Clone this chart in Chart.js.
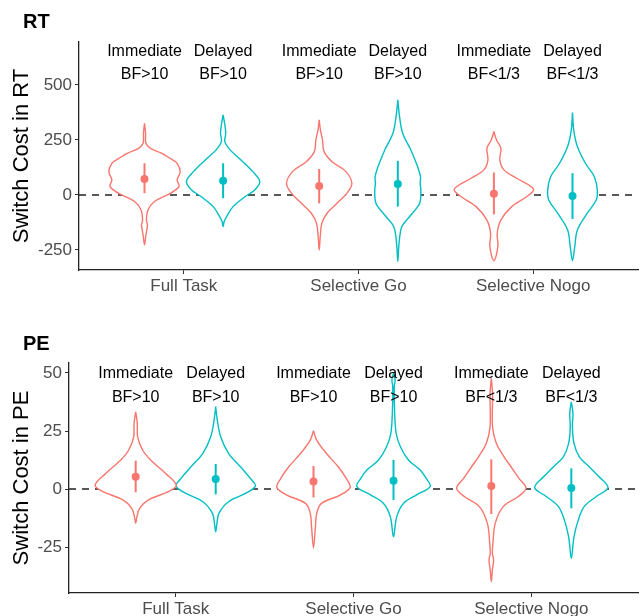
<!DOCTYPE html>
<html>
<head>
<meta charset="utf-8">
<script src="https://cdn.jsdelivr.net/npm/chart.js@4.4.1/dist/chart.umd.min.js"></script>
<style>
  body { margin: 0; background: #fff; }
  canvas { display: block; }
</style>
</head>
<body>
<canvas id="rtChart" width="642" height="300"></canvas>
<canvas id="peChart" width="642" height="316"></canvas>
<script>
// categories and groups
const categories = ['Full Task', 'Selective Go', 'Selective Nogo'];
const conditions = ['Immediate', 'Delayed'];
const colors = ['#F8766D', '#00BFC4'];

// order of the 6 violins: FT imm, FT del, SG imm, SG del, SN imm, SN del
const rtBF = ['BF>10', 'BF>10', 'BF>10', 'BF>10', 'BF<1/3', 'BF<1/3'];
const peBF = ['BF>10', 'BF>10', 'BF>10', 'BF>10', 'BF<1/3', 'BF<1/3'];

const rtTicks = [-250, 0, 250, 500];
const peTicks = [-25, 0, 25, 50];

// means and error bars
const rtMean = [72, 64, 41, 50, 5, -5];
const rtLow = [8, -15, -38, -53, -88, -109];
const rtHigh = [144, 144, 118, 155, 102, 99];
const peMean = [5.3, 4.3, 3.2, 3.6, 1.3, 0.4];
const peLow = [-1.4, -2.3, -3.6, -4.7, -10.8, -8.3];
const peHigh = [12.2, 10.8, 9.9, 12.5, 12.8, 8.9];

// violin outlines: y values and half width of the density (in category units)
const rtViolinY = [
  [326, 280, 235, 212, 190, 160, 144, 106, 68, 40, 15, 0, -30, -68, -114, -136, -182, -227],
  [364, 318, 280, 242, 205, 159, 106, 61, 23, -8, -53, -98, -121, -144],
  [341, 295, 250, 197, 151, 106, 53, 8, -38, -83, -129, -189, -250],
  [432, 356, 280, 205, 129, 83, 50, 23, -38, -98, -144, -220, -303],
  [288, 250, 212, 159, 114, 76, 26, -8, -53, -114, -174, -235, -299],
  [374, 295, 220, 144, 83, 23, -23, -83, -159, -235, -299]
];
const rtViolinW = [
  [0, .006, .008, .034, .096, .159, .187, .204, .187, .198, .164, .130, .057, .020, .011, .017, .008, 0],
  [0, .010, .015, .010, .040, .102, .170, .210, .181, .125, .057, .020, .006, 0],
  [0, .007, .019, .028, .074, .153, .187, .159, .102, .045, .015, .006, 0],
  [0, .010, .028, .074, .113, .130, .128, .132, .125, .068, .023, .007, 0],
  [0, .015, .040, .034, .057, .130, .227, .187, .102, .040, .019, .023, 0],
  [0, .007, .028, .074, .125, .142, .136, .085, .028, .013, 0]
];
const peViolinY = [
  [33.3, 28.3, 22.5, 16.8, 12.5, 6.8, 1.7, -1.1, -4.7, -8.3, -11.9, -14.8],
  [35.5, 29.7, 22.5, 15.4, 9.6, 4.6, 1.3, -1.9, -5.5, -10.5, -14.8, -18.4],
  [25.1, 21.1, 15.4, 9.6, 4.6, 0.7, -2.6, -6.2, -10.5, -16.2, -25.4],
  [49.9, 47, 44, 34, 24, 18.2, 12.5, 8.2, 4.6, 1.0, -2.6, -6.2, -11.9, -20.6],
  [47.7, 41.2, 26.9, 19.7, 13.9, 9.6, 4.6, 0.3, -3.3, -7.6, -14.8, -23.4, -27.7, -30.6, -34.9, -40],
  [37.6, 32.6, 26.9, 19.7, 13.9, 9.6, 5.3, 0.6, -3.3, -7.6, -13.4, -20.6, -29.9]
];
const peViolinW = [
  [0, .009, .011, .039, .084, .167, .228, .184, .072, .022, .007, 0],
  [0, .009, .028, .072, .139, .195, .223, .167, .072, .018, .007, 0],
  [0, .018, .072, .139, .184, .206, .150, .045, .018, .011, 0],
  [0, .009, .004, .006, .015, .039, .084, .150, .184, .206, .128, .056, .018, 0],
  [0, .007, .007, .028, .072, .111, .156, .195, .150, .067, .022, .009, .006, .013, .006, 0],
  [0, .009, .006, .015, .045, .100, .156, .206, .139, .072, .039, .015, 0]
];

const family = "'Liberation Sans', Arial, sans-serif";
Chart.defaults.font.family = family;

const dodge = 0.225;
function centerOf(i) {
  return Math.floor(i / 2) + 1 + (i % 2 ? dodge : -dodge);
}

// titles and the Immediate / BF text over each violin
const panelText = {
  id: 'panelText',
  afterDatasetsDraw(chart, args, opts) {
    const ctx = chart.ctx;
    const xs = chart.scales.x, ys = chart.scales.y;
    ctx.save();
    ctx.fillStyle = '#000';
    ctx.font = 'bold 20px ' + family;
    ctx.textAlign = 'left';
    ctx.textBaseline = 'alphabetic';
    ctx.fillText(opts.title, 23, opts.titleY);
    ctx.font = '16px ' + family;
    ctx.textAlign = 'center';
    ctx.textBaseline = 'middle';
    for (let i = 0; i < 6; i++) {
      const cx = xs.getPixelForValue(centerOf(i));
      ctx.fillText(conditions[i % 2], cx, ys.getPixelForValue(opts.row1));
      ctx.fillText(opts.bf[i], cx, ys.getPixelForValue(opts.row2));
    }
    ctx.restore();
  }
};

function makePanel(id, p) {
  const datasets = [];
  datasets.push({
    data: [{ x: 0.4, y: 0 }, { x: 3.6, y: 0 }],
    borderColor: '#222', borderWidth: 1.4, borderDash: [7, 6],
    pointRadius: 0, order: 10
  });
  for (let i = 0; i < 6; i++) {
    const c = centerOf(i);
    const col = colors[i % 2];
    const Y = p.violinY[i], W = p.violinW[i];
    const right = Y.map((y, k) => ({ x: c + W[k], y: y }));
    const left = Y.map((y, k) => ({ x: c - W[k], y: y })).reverse().slice(1);
    datasets.push({
      data: right.concat(left),
      borderColor: col, borderWidth: 1.4, backgroundColor: '#fff',
      fill: 'shape', tension: 0.35, pointRadius: 0, order: 5
    });
    datasets.push({
      data: [{ x: c, y: p.low[i] }, { x: c, y: p.high[i] }],
      borderColor: col, borderWidth: 2, pointRadius: 0, order: 2
    });
    datasets.push({
      data: [{ x: c, y: p.mean[i] }],
      showLine: false, pointRadius: 4, pointBackgroundColor: col,
      pointBorderWidth: 0, order: 1
    });
  }

  return new Chart(document.getElementById(id), {
    type: 'line',
    data: { datasets: datasets },
    plugins: [panelText],
    options: {
      responsive: false,
      animation: false,
      layout: { padding: { top: p.top, left: 0, right: 0, bottom: 0 } },
      plugins: {
        legend: { display: false },
        tooltip: { enabled: false },
        panelText: { title: p.title, titleY: p.titleY, row1: p.row1, row2: p.row2, bf: p.bf }
      },
      scales: {
        x: {
          type: 'linear', min: 0.4, max: 3.6,
          afterBuildTicks: s => { s.ticks = [1, 2, 3].map(v => ({ value: v })); },
          afterFit: s => { s.height = p.xHeight; },
          ticks: {
            callback: v => categories[Math.round(v) - 1],
            color: '#4d4d4d', font: { size: 17 }, padding: 2,
            maxRotation: 0, autoSkip: false
          },
          grid: { drawOnChartArea: false, drawTicks: true, tickLength: 4, color: '#333' },
          border: { color: '#222', width: 1.3 }
        },
        y: {
          min: p.min, max: p.max,
          afterBuildTicks: s => { s.ticks = p.ticks.map(v => ({ value: v })); },
          afterFit: s => { s.width = p.yWidth; },
          ticks: { callback: v => String(v), color: '#4d4d4d', font: { size: 17 }, padding: 3 },
          grid: { drawOnChartArea: false, drawTicks: true, tickLength: 4, color: '#333' },
          border: { color: '#222', width: 1.3 },
          title: {
            display: true, text: p.yTitle, color: '#000',
            font: { size: 22 }, padding: { top: 9, bottom: 0 }
          }
        }
      }
    }
  });
}

makePanel('rtChart', {
  title: 'RT', titleY: 28, yTitle: 'Switch Cost in RT',
  min: -341, max: 695, ticks: rtTicks, top: 42, xHeight: 30, yWidth: 79,
  row1: 650, row2: 545, bf: rtBF,
  mean: rtMean, low: rtLow, high: rtHigh, violinY: rtViolinY, violinW: rtViolinW
});

makePanel('peChart', {
  title: 'PE', titleY: 50, yTitle: 'Switch Cost in PE',
  min: -44.8, max: 54.3, ticks: peTicks, top: 63, xHeight: 23, yWidth: 69,
  row1: 49.6, row2: 39.4, bf: peBF,
  mean: peMean, low: peLow, high: peHigh, violinY: peViolinY, violinW: peViolinW
});
</script>
</body>
</html>
